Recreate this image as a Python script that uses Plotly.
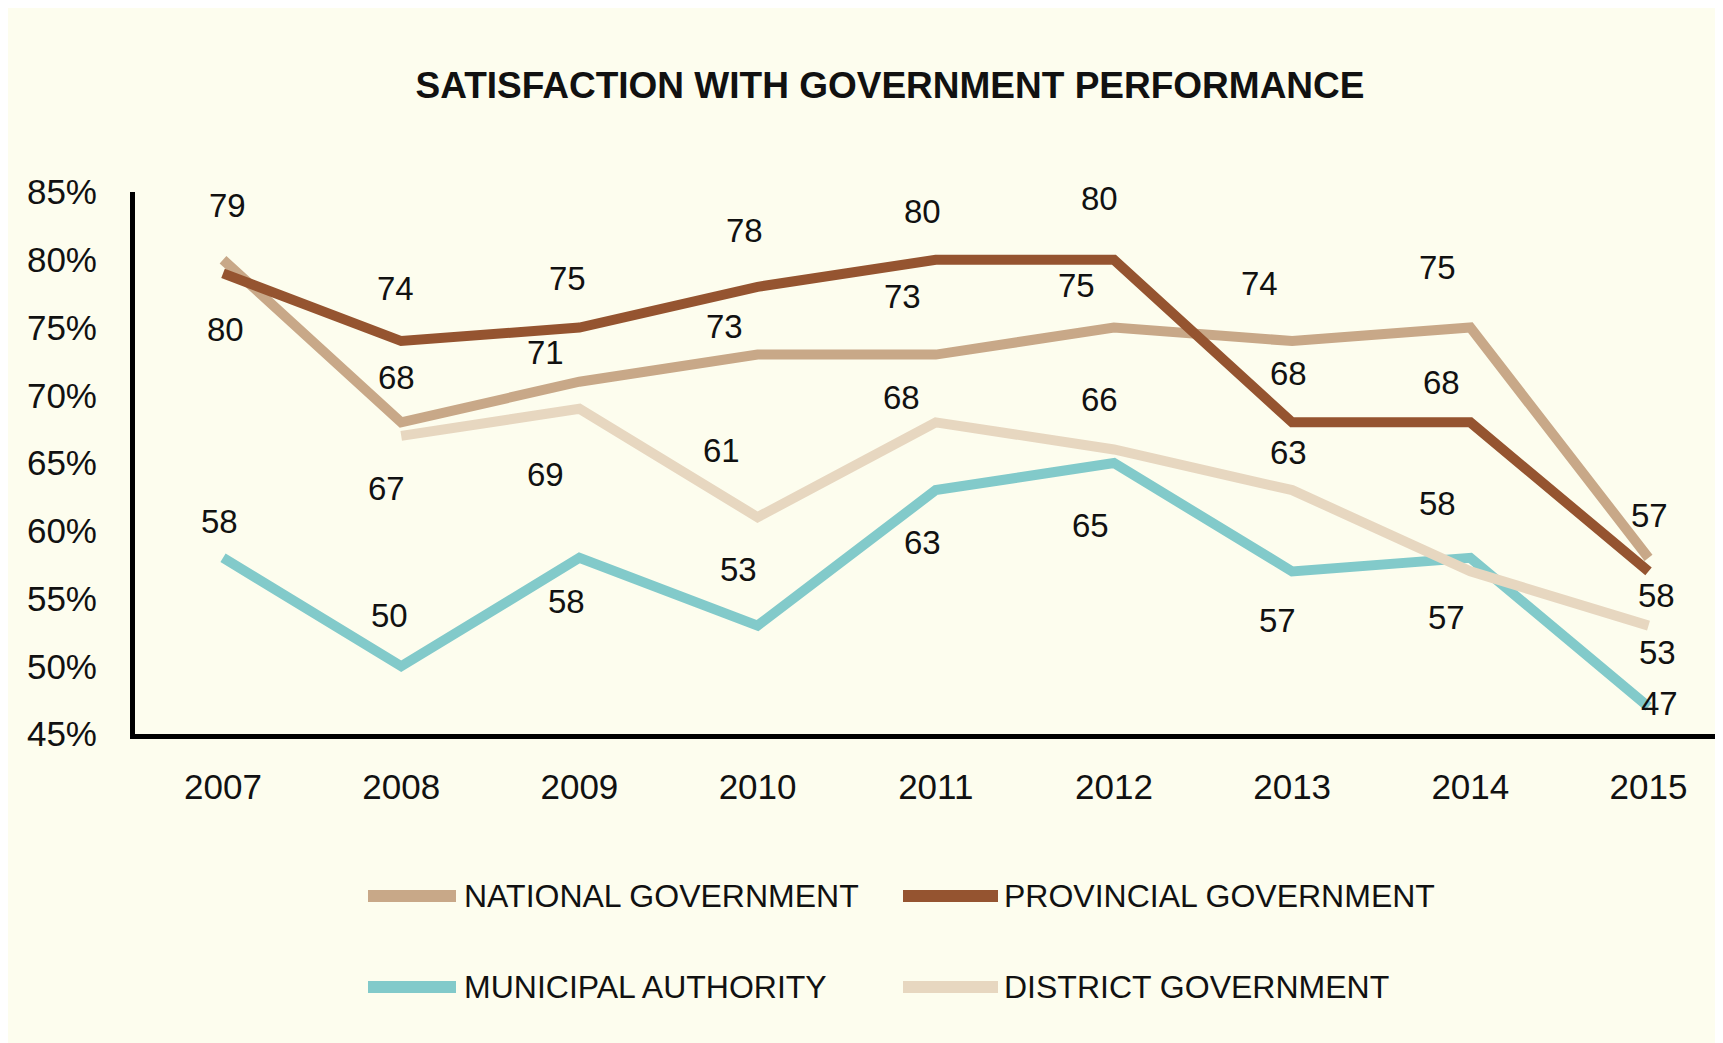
import plotly.graph_objects as go

# ---------------- data ----------------
years = ["2007", "2008", "2009", "2010", "2011", "2012", "2013", "2014", "2015"]
national = [80, 68, 71, 73, 73, 75, 74, 75, 58]
provincial = [79, 74, 75, 78, 80, 80, 68, 68, 57]
municipal = [58, 50, 58, 53, 63, 65, 57, 58, 47]
district = [None, 67, 69, 61, 68, 66, 63, 57, 53]
y_ticks = [45, 50, 55, 60, 65, 70, 75, 80, 85]
y_tick_labels = [f"{v}%" for v in y_ticks]

series_names = ["NATIONAL GOVERNMENT", "PROVINCIAL GOVERNMENT",
                "MUNICIPAL AUTHORITY", "DISTRICT GOVERNMENT"]

# ---------------- styles / label placement (pixels) ----------------
colors = {
    "national": "#C8A888",
    "provincial": "#955430",
    "municipal": "#82CACA",
    "district": "#E7D7C0",
}
FONT = "Liberation Sans, Arial, sans-serif"
S = 1.1  # offset scale
label_offsets = {  # (dx, dy) with dy positive = downward, per year
    "national": [(2, 63), (-4, -41), (-31, -27), (-30, -26), (-30, -53), (-34, -38), (-30, -52), (-30, -55), (7, 34)],
    "provincial": [(4, -62), (-5, -48), (-11, -45), (-12, -51), (-12, -44), (-13, -56), (-3, -44), (-26, -36), (1, -51)],
    "municipal": [(-3, -33), (-11, -46), (-12, 40), (-17, -51), (-12, 48), (-21, 57), (-13, 45), (-30, -49), (10, -3)],
    "district": [None, (-13, 48), (-31, 60), (-33, -61), (-31, -23), (-13, -45), (-3, -34), (-22, 42), (8, 24)],
}

xs = list(range(len(years)))
data = {"national": national, "provincial": provincial,
        "municipal": municipal, "district": district}

fig = go.Figure()
draw_order = ["national", "municipal", "district", "provincial"]
for key in draw_order:
    fig.add_trace(go.Scatter(
        x=xs, y=data[key], mode="lines",
        line=dict(color=colors[key], width=10),
        showlegend=False, hoverinfo="skip",
    ))

annotations = []
for key in ["provincial", "national", "district", "municipal"]:
    for i, v in enumerate(data[key]):
        if v is None:
            continue
        dx, dy = label_offsets[key][i]
        annotations.append(dict(
            x=xs[i], y=v, xref="x", yref="y", text=str(v), showarrow=False,
            xshift=dx * S, yshift=-dy * S,
            font=dict(family=FONT, size=33, color="#111111"),
        ))

# ---------------- geometry (page px, page body has an 8px margin) ----------------
OFF = 8
W, H = 1723 - OFF, 1043 - OFF
ML, MR = 135 - OFF, 0
MT = 192 - OFF
MB = H - (734 - OFF)
PW, PH = W - ML - MR, H - MT - MB


def px_x(p):
    return (p - OFF - ML) / PW


def px_y(p):
    return (H - MB - (p - OFF)) / PH


legend_items = [
    ("national", series_names[0], 368, 456, 462, 896),
    ("provincial", series_names[1], 903, 998, 1002, 896),
    ("municipal", series_names[2], 368, 456, 462, 987),
    ("district", series_names[3], 903, 998, 1002, 987),
]
shapes = [
    dict(type="rect", xref="paper", yref="paper",
         x0=px_x(6), x1=px_x(1722), y0=px_y(1043), y1=px_y(5),
         fillcolor="#FDFDEE", line=dict(width=0), layer="below"),
]
for key, name, x0, x1, xt, yc in legend_items:
    shapes.append(dict(type="line", xref="paper", yref="paper",
                       x0=px_x(x0), x1=px_x(x1), y0=px_y(yc), y1=px_y(yc),
                       line=dict(color=colors[key], width=12)))
    annotations.append(dict(x=px_x(xt), y=px_y(yc), xref="paper", yref="paper",
                            text=name, showarrow=False, xanchor="left", yanchor="middle",
                            font=dict(family=FONT, size=32, color="#111111")))

fig.update_layout(
    width=W, height=H,
    margin=dict(l=ML, r=MR, t=MT, b=MB),
    paper_bgcolor="#FDFDEE",
    plot_bgcolor="rgba(0,0,0,0)",
    title=dict(text="<b>SATISFACTION WITH GOVERNMENT PERFORMANCE</b>",
               x=(890 - OFF) / W, xanchor="center", y=1 - (85 - OFF) / H, yanchor="middle",
               font=dict(family=FONT, size=37, color="#111111")),
    showlegend=False,
    annotations=annotations,
    shapes=shapes,
    xaxis=dict(range=[-0.494, 8.418], tickvals=xs, ticktext=years,
               showgrid=False, zeroline=False, showline=True,
               linecolor="#000000", linewidth=5, ticks="",
               ticklabelstandoff=18,
               tickfont=dict(family=FONT, size=35, color="#111111")),
    yaxis=dict(range=[45, 85], tickvals=y_ticks, ticktext=y_tick_labels,
               showgrid=False, zeroline=False, showline=True,
               linecolor="#000000", linewidth=5, ticks="",
               ticklabelstandoff=26,
               tickfont=dict(family=FONT, size=35, color="#111111")),
)

fig.write_html("out.html")
